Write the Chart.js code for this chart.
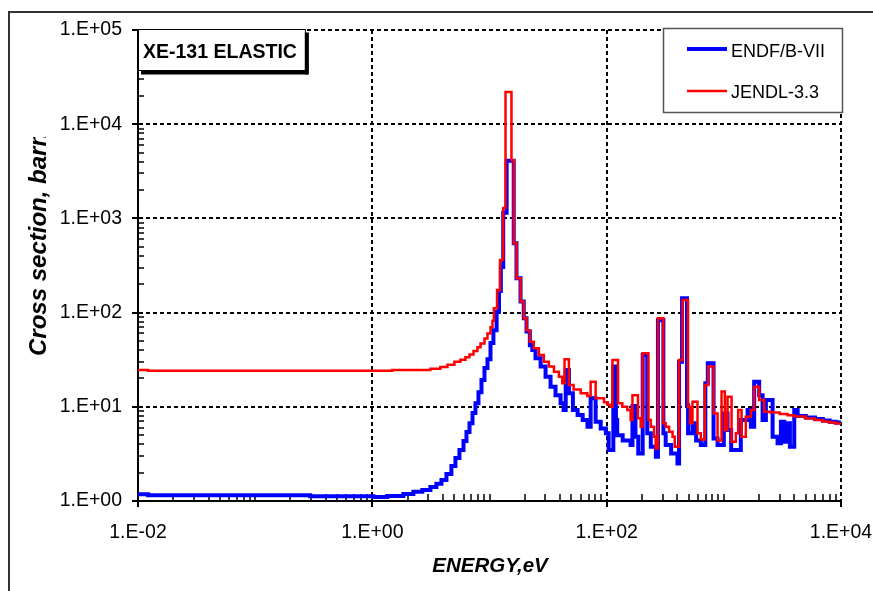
<!DOCTYPE html>
<html>
<head>
<meta charset="utf-8">
<script src="https://cdn.jsdelivr.net/npm/chart.js@4.4.1/dist/chart.umd.min.js"></script>
<style>
html,body{margin:0;padding:0;background:#fff;}
canvas{display:block;}
</style>
</head>
<body>
<canvas id="c" width="873" height="591"></canvas>
<script>
// ---------------- data ----------------
const chartTitle = 'XE-131 ELASTIC';
const xAxisTitle = 'ENERGY,eV';
const yAxisTitle = 'Cross section, barn';
const seriesNames = ['ENDF/B-VII', 'JENDL-3.3'];
const xTickValues = [1e-2, 1e0, 1e2, 1e4];
const yTickValues = [1e0, 1e1, 1e2, 1e3, 1e4, 1e5];

// ENDF/B-VII : step start energy (eV) and cross section (barn)
const endfEnergy = [0.01, 0.0122, 0.295, 1.02, 1.34, 1.84, 2.24, 2.67, 3.13, 3.52, 3.89, 4.29, 4.73, 5.12, 5.54, 6.0, 6.36, 6.75, 7.16, 7.59,
  8.05, 8.54, 9.06, 9.61, 10.2, 10.8, 11.5, 12.05, 12.5, 13.1, 14.0, 16.1, 17.0, 18.4, 19.6, 20.7, 22.1, 23.2, 24.7, 27.3,
  30.1, 33.2, 36.6, 40.4, 42.9, 44.7, 47.6, 51.5, 56.5, 62.4, 68.6, 73.0, 80.5, 88.9, 98.5, 104, 114, 120, 123, 137,
  160, 166, 176, 186, 203, 222, 238, 263, 274, 305, 319, 355, 402, 415, 440, 485, 495, 540, 580, 636,
  695, 730, 817, 884, 1000, 1076, 1155, 1396, 1596, 1701, 1815, 2003, 2142, 2285, 2608, 2876, 3070, 3276, 3501, 3664,
  3990, 4265, 5000, 6000, 7000, 8000, 9000, 10000];
const endfXS = [1.18, 1.15, 1.12, 1.10, 1.13, 1.19, 1.25, 1.31, 1.41, 1.52, 1.67, 1.93, 2.35, 2.86, 3.48, 4.34, 5.4, 6.7, 8.6, 10.9,
  14.3, 19.2, 25.8, 32, 47.5, 65, 102, 170, 305, 1150, 4100, 544, 231, 131, 87, 63, 45, 40, 32.7, 26.7,
  20.9, 16.3, 13.3, 10.9, 9.25, 24.6, 13.9, 9.25, 8.2, 7.24, 6.15, 12.3, 6.95, 5.9, 5.24, 3.48, 26.7, 7.24, 5.0, 4.4,
  3.93, 10.2, 4.8, 3.2, 35.5, 5.24, 3.77, 2.95, 83, 5.24, 3.93, 3.2, 2.5, 30, 142, 10.4, 5.24, 6.7, 4.4, 3.93,
  17.8, 29, 4.6, 3.93, 8.5, 5.67, 3.48, 7.24, 9.25, 6.15, 18.5, 13.3, 7.24, 11.8, 4.8, 4.1, 6.95, 4.26, 6.7, 3.77,
  9.25, 8.0, 7.7, 7.4, 7.15, 6.95, 6.8, 6.7];

// JENDL-3.3 : step start energy (eV) and cross section (barn)
const jendlEnergy = [0.01, 0.0122, 1.48, 3.13, 3.81, 4.38, 5.02, 5.65, 6.23, 6.75, 7.30, 7.89, 8.38, 9.06, 9.61, 10.2, 10.6, 10.9, 11.6, 12.3,
  13.1, 13.7, 15.4, 16.1, 17.0, 18.4, 19.6, 20.7, 22.1, 23.9, 26.4, 29.1, 32.1, 35.5, 39.1, 41.8, 43.7, 47.6, 52.2, 60.0,
  68.4, 73.0, 80.5, 94.9, 102, 108, 112, 125, 136, 150, 160, 166, 185, 195, 202, 227, 238, 254, 262, 274,
  305, 319, 341, 365, 381, 415, 444, 495, 515, 540, 596, 636, 688, 735, 817, 884, 956, 1020, 1076, 1164,
  1267, 1326, 1417, 1541, 1701, 1815, 2003, 2210, 2500, 3000, 3500, 4000, 5000, 6000, 7000, 8000, 9000, 10000];
const jendlXS = [24.6, 24.2, 24.6, 25.3, 26.5, 28, 30, 31.5, 33.5, 36, 39, 43, 47, 53, 60, 70, 82, 111, 174, 362,
  1290, 22000, 4150, 544, 231, 131, 87, 65, 49, 41.8, 35.5, 30, 26.7, 23.6, 20.9, 17.8, 31.9, 17, 15.3, 13.9,
  13, 18.5, 12.3, 11.2, 10.5, 10, 31.4, 10.9, 10, 9.25, 7.24, 13.3, 7.55, 6.15, 37, 7.24, 6.15, 4.8, 3.6, 87,
  6.7, 6.15, 5.44, 4.8, 3.77, 31.4, 136, 10, 6.7, 11.3, 5.24, 4.5, 17, 26.7, 8.5, 4.4, 14.5, 5.67, 12.8, 4.26,
  5.24, 9.25, 4.8, 7.85, 9.25, 16.3, 11.8, 8.87, 8.7, 8.4, 8.13, 7.9, 7.53, 7.24, 7.0, 6.81, 6.63, 6.5];

// ---------------- helpers ----------------
const FONT = "'Liberation Sans', Arial, Helvetica, sans-serif";
const toPts = (xs, ys) => xs.map((x, i) => ({x: x, y: ys[i]}));
const isIn = (v, arr) => v != null && arr.some(a => Math.abs(Math.log10(v) - Math.log10(a)) < 1e-6);
const fmtExp = v => {
  const e = Math.round(Math.log10(v));
  return '1.E' + (e < 0 ? '-' : '+') + String(Math.abs(e)).padStart(2, '0');
};
function logTicks(min, max) {
  const out = [];
  const e0 = Math.round(Math.log10(min)), e1 = Math.round(Math.log10(max));
  for (let e = e0; e < e1; e++) {
    for (let k = 1; k <= 9; k++) out.push(Number((k * Math.pow(10, e)).toPrecision(6)));
  }
  out.push(max);
  return out;
}

const framePlugin = {
  id: 'frame',
  beforeDraw(chart) {
    const c = chart.ctx;
    c.save();
    c.fillStyle = '#fff';
    c.fillRect(0, 0, chart.width, chart.height);
    c.strokeStyle = '#333';
    c.lineWidth = 2;
    c.beginPath();
    c.moveTo(9, chart.height + 5);
    c.lineTo(9, 12);
    c.lineTo(chart.width + 5, 12);
    c.stroke();
    c.restore();
  },
  beforeDatasetsDraw(chart) {
    const c = chart.ctx, a = chart.chartArea, xs = chart.scales.x, ys = chart.scales.y;
    c.save();
    c.strokeStyle = '#000';
    c.lineWidth = 1.5;
    c.beginPath();
    xs.ticks.forEach(t => {
      if (!isIn(t.value, xTickValues)) {
        const px = Math.round(xs.getPixelForValue(t.value));
        c.moveTo(px, a.bottom);
        c.lineTo(px, a.bottom - 7);
      }
    });
    ys.ticks.forEach(t => {
      if (!isIn(t.value, yTickValues)) {
        const py = Math.round(ys.getPixelForValue(t.value));
        c.moveTo(a.left, py);
        c.lineTo(a.left + 6, py);
      }
    });
    c.stroke();
    c.restore();
  },
  afterDraw(chart) {
    const c = chart.ctx, a = chart.chartArea;
    c.save();
    // title box
    c.font = 'bold 19.5px ' + FONT;
    const tw = c.measureText(chartTitle).width;
    const bx = a.left, by = 29.5, bw = tw + 13, bh = 41;
    c.fillStyle = '#fff';
    c.fillRect(bx, by, bw, bh);
    c.strokeStyle = '#000';
    c.lineWidth = 1;
    c.strokeRect(bx + 0.5, by, bw, bh);
    c.fillStyle = '#000';
    c.fillRect(bx + 3, by + bh, bw, 4);
    c.fillRect(bx + bw, by + 3, 4, bh + 1);
    c.textBaseline = 'alphabetic';
    c.textAlign = 'left';
    c.fillText(chartTitle, bx + 5, 57.5);

    // legend box
    const lx = 663.5, ly = 28.5, lw = 179, lh = 84;
    c.fillStyle = '#fff';
    c.fillRect(lx, ly, lw, lh);
    c.strokeStyle = '#555';
    c.lineWidth = 1.5;
    c.strokeRect(lx, ly, lw, lh);
    const ds = chart.data.datasets;
    const rows = [{y: 49, base: 56.5}, {y: 91, base: 98.3}];
    c.font = '18px ' + FONT;
    ds.forEach((d, i) => {
      c.strokeStyle = d.borderColor;
      c.lineWidth = d.borderWidth;
      c.beginPath();
      c.moveTo(687, rows[i].y);
      c.lineTo(727, rows[i].y);
      c.stroke();
      c.fillStyle = '#000';
      c.fillText(d.label, 731, rows[i].base);
    });

    // axis titles
    c.fillStyle = '#000';
    c.font = 'italic bold 20.5px ' + FONT;
    c.textAlign = 'center';
    c.fillText(xAxisTitle, 490, 571.5);
    c.save();
    c.beginPath();
    c.rect(0, 137, 120, 300);
    c.clip();
    c.font = 'italic bold 24px ' + FONT;
    c.translate(46, 356);
    c.rotate(-Math.PI / 2);
    c.textAlign = 'left';
    c.fillText(yAxisTitle, 0, 0);
    c.restore();
    c.restore();
  }
};

const gridOpts = (majors) => ({
  display: true,
  drawOnChartArea: true,
  drawTicks: true,
  tickLength: 6,
  color: ctx => (ctx.tick && isIn(ctx.tick.value, majors)) ? '#000' : 'rgba(0,0,0,0)',
  lineWidth: ctx => (ctx.tick && isIn(ctx.tick.value, majors)) ? 2 : 0,
  tickColor: ctx => (ctx.tick && isIn(ctx.tick.value, majors)) ? '#000' : 'rgba(0,0,0,0)',
  tickWidth: 2
});

new Chart(document.getElementById('c'), {
  type: 'line',
  data: {
    datasets: [
      {label: seriesNames[0], data: toPts(endfEnergy, endfXS), borderColor: '#0000FF', borderWidth: 4,
       stepped: 'before', pointRadius: 0, fill: false, order: 1, borderJoinStyle: 'miter'},
      {label: seriesNames[1], data: toPts(jendlEnergy, jendlXS), borderColor: '#FF0000', borderWidth: 2.5,
       stepped: 'before', pointRadius: 0, fill: false, order: 0, borderJoinStyle: 'miter'}
    ]
  },
  options: {
    responsive: false,
    animation: false,
    devicePixelRatio: 1,
    layout: {padding: {top: 30, right: 32, left: 0, bottom: 0}},
    plugins: {legend: {display: false}, tooltip: {enabled: false}, title: {display: false}},
    scales: {
      x: {
        type: 'logarithmic', position: 'bottom', min: 1e-2, max: 1e4,
        afterFit: s => { s.height = 90; s.paddingLeft = 0; s.paddingRight = 0; },
        afterBuildTicks: s => { s.ticks = logTicks(1e-2, 1e4).map(v => ({value: v})); },
        ticks: {
          autoSkip: false, maxRotation: 0, minRotation: 0, padding: 14, color: '#000',
          font: {family: FONT, size: 19.5},
          callback: v => isIn(v, xTickValues) ? fmtExp(v) : ''
        },
        grid: gridOpts(xTickValues),
        border: {display: true, color: '#000', width: 2, dash: [4, 3]}
      },
      y: {
        type: 'logarithmic', position: 'left', min: 1, max: 1e5,
        afterFit: s => { s.width = 138; s.paddingTop = 0; s.paddingBottom = 0; },
        afterBuildTicks: s => { s.ticks = logTicks(1, 1e5).map(v => ({value: v})); },
        ticks: {
          autoSkip: false, padding: 10, color: '#000',
          font: {family: FONT, size: 19.5},
          callback: v => isIn(v, yTickValues) ? fmtExp(v) : ''
        },
        grid: gridOpts(yTickValues),
        border: {display: true, color: '#000', width: 2, dash: [4, 3]}
      }
    }
  },
  plugins: [framePlugin]
});
</script>
</body>
</html>
